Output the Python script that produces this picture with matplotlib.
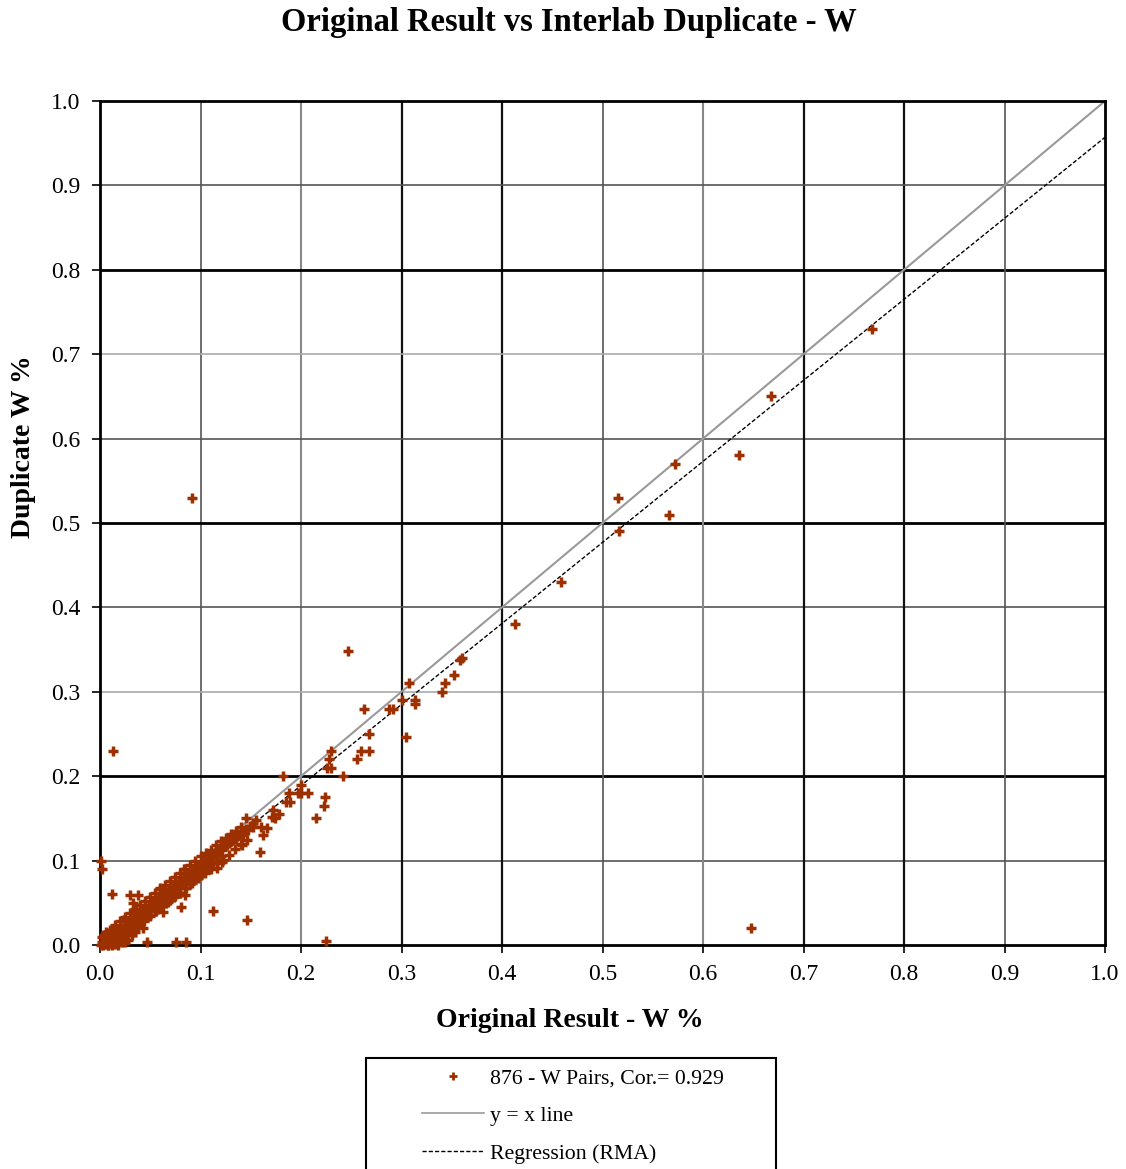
import matplotlib
matplotlib.use('Agg')
import matplotlib.pyplot as plt
import matplotlib.ticker as mticker
import matplotlib.patches as mpatches
from matplotlib.lines import Line2D
import numpy as np

plt.rcParams['font.family'] = ['Liberation Serif', 'DejaVu Serif']

# dense cluster along the diagonal
clusterX = [0.001,0.002,0.003,0.004,0.005,0.005,0.006,0.007,0.008,0.009,0.010,0.010,0.011,0.012,0.013,0.014,
            0.015,0.016,0.017,0.018,0.019,0.020,0.021,0.022,0.023,0.024,0.025,0.026,0.027,0.028,0.029,0.030,
            0.031,0.032,0.033,0.034,0.035,0.036,0.037,0.038,0.039,0.040,0.041,0.042,0.043,0.044,0.045,0.046,
            0.047,0.048,0.049,0.050,0.051,0.052,0.053,0.054,0.055,0.056,0.057,0.058,0.059,0.060,0.061,0.062,
            0.063,0.064,0.065,0.066,0.067,0.068,0.069,0.070,0.071,0.072,0.073,0.074,0.075,0.076,0.077,0.078,
            0.079,0.080,0.081,0.082,0.083,0.084,0.085,0.086,0.087,0.088,0.089,0.090,0.091,0.092,0.093,0.094,
            0.095,0.096,0.097,0.098,0.099,0.100,0.101,0.102,0.103,0.104,0.105,0.106,0.107,0.108,0.110,0.112,
            0.114,0.115,0.117,0.118,0.120,0.121,0.123,0.125,0.126,0.128,0.130,0.132,0.134,0.135,0.137,0.140,
            0.142,0.145,0.147,0.150,0.152,0.155]
clusterY = [0.000,0.003,0.001,0.004,0.002,0.006,0.005,0.003,0.008,0.006,0.004,0.010,0.008,0.011,0.009,0.012,
            0.010,0.014,0.012,0.016,0.015,0.013,0.019,0.017,0.020,0.018,0.022,0.021,0.024,0.023,0.026,0.025,
            0.028,0.027,0.030,0.029,0.032,0.031,0.034,0.030,0.036,0.035,0.037,0.036,0.040,0.038,0.041,0.040,
            0.043,0.042,0.046,0.044,0.047,0.046,0.050,0.048,0.051,0.050,0.053,0.052,0.055,0.054,0.057,0.056,
            0.059,0.058,0.060,0.059,0.062,0.061,0.064,0.063,0.066,0.065,0.068,0.067,0.069,0.068,0.071,0.070,
            0.073,0.072,0.074,0.076,0.075,0.078,0.077,0.079,0.081,0.080,0.082,0.084,0.083,0.086,0.085,0.088,
            0.087,0.090,0.089,0.092,0.091,0.094,0.093,0.096,0.095,0.098,0.100,0.099,0.102,0.101,0.104,0.106,
            0.108,0.110,0.109,0.112,0.114,0.113,0.117,0.119,0.118,0.121,0.123,0.125,0.127,0.126,0.130,0.132,
            0.130,0.138,0.136,0.141,0.145,0.148]

# points spread on both sides of the band
bandX = [0.005,0.010,0.015,0.020,0.025,0.030,0.035,0.040,0.045,0.050,0.055,0.060,0.065,0.070,0.075,0.080,
         0.085,0.090,0.095,0.100,0.105,0.110,0.115,0.120,0.125,0.130,0.135,0.140,
         0.008,0.014,0.020,0.026,0.032,0.038,0.044,0.050,0.056,0.062,0.068,0.074,0.080,0.086,0.092,0.098,
         0.104,0.110,0.116,0.122,0.128,0.134,0.140,0.146,0.012,0.024,0.036,0.048,0.060,0.072,0.084,0.096]
bandY = [0.012,0.018,0.024,0.028,0.033,0.038,0.043,0.047,0.052,0.057,0.062,0.067,0.071,0.076,0.080,0.085,
         0.090,0.095,0.099,0.105,0.109,0.113,0.118,0.123,0.127,0.131,0.135,0.140,
         0.000,0.004,0.008,0.012,0.018,0.023,0.029,0.034,0.040,0.046,0.051,0.057,0.062,0.068,0.074,0.079,
         0.085,0.090,0.097,0.101,0.107,0.114,0.120,0.125,0.018,0.030,0.042,0.040,0.066,0.064,0.090,0.084]

# scattered points below/around the band near origin
lowX = [0.002,0.004,0.006,0.008,0.010,0.012,0.014,0.016,0.018,0.020,0.022,0.024,0.026,0.028,0.030,0.033,
        0.036,0.040,0.043,0.047,0.050,0.055,0.058,0.062,0.066,0.070,0.075,0.080,0.085,0.090,0.095,0.100,
        0.104,0.108,0.112,0.116,0.120,0.003,0.005,0.008,0.012,0.015,0.018,0.022,0.025,0.028,0.032,0.035]
lowY = [0.010,0.012,0.015,0.000,0.002,0.004,0.003,0.006,0.005,0.008,0.010,0.012,0.014,0.016,0.018,0.020,
        0.024,0.027,0.030,0.033,0.036,0.040,0.043,0.046,0.050,0.053,0.058,0.062,0.067,0.072,0.078,0.083,
        0.088,0.092,0.097,0.100,0.105,0.000,0.001,0.002,0.000,0.001,0.000,0.003,0.004,0.006,0.012,0.015]

# outliers and larger values
outX = [0.092,0.247,0.013,0.648,0.225,0.146,0.112,0.768,0.668,0.636,0.572,0.566,0.515,0.516,0.459,0.413,
        0.360,0.358,0.352,0.343,0.340,0.307,0.313,0.313,0.300,0.292,0.288,0.304,0.263,0.268,0.268,0.260,
        0.256,0.230,0.228,0.226,0.230,0.242,0.224,0.223,0.215,0.200,0.200,0.182,0.188,0.185,0.178,0.174,
        0.172,0.160,0.162,0.159,0.001,0.002,0.012,0.030,0.038,0.033,0.047,0.076,0.086,0.081,0.063,0.043,
        0.189,0.197,0.171,0.166,0.141,0.121,0.116,0.085,0.207,0.152,0.145,0.130,0.110,0.098]
outY = [0.530,0.348,0.230,0.020,0.005,0.030,0.040,0.730,0.650,0.580,0.570,0.510,0.530,0.490,0.430,0.380,
        0.340,0.338,0.320,0.310,0.300,0.310,0.290,0.285,0.290,0.280,0.280,0.247,0.280,0.250,0.230,0.230,
        0.220,0.230,0.220,0.210,0.210,0.200,0.175,0.165,0.150,0.190,0.180,0.200,0.180,0.170,0.155,0.150,
        0.160,0.140,0.130,0.110,0.100,0.090,0.060,0.059,0.059,0.050,0.004,0.004,0.004,0.045,0.039,0.020,
        0.170,0.180,0.152,0.139,0.118,0.098,0.091,0.059,0.180,0.140,0.150,0.128,0.108,0.080]

xAll = clusterX + bandX + lowX + outX
yAll = clusterY + bandY + lowY + outY

# RMA regression
rmaSlope = 0.960
rmaIntercept = -0.003
lineX = [0.0, 1.0]

ticks = [0.0,0.1,0.2,0.3,0.4,0.5,0.6,0.7,0.8,0.9,1.0]

fig = plt.figure(figsize=(11.26,11.69), dpi=100)
ax = fig.add_axes([100/1126, 1-945/1169, 1005/1126, 844/1169])

ax.set_xlim(0,1)
ax.set_ylim(0,1)
ax.set_xticks(ticks)
ax.set_yticks(ticks)
ax.xaxis.set_major_formatter(mticker.FormatStrFormatter('%.1f'))
ax.yaxis.set_major_formatter(mticker.FormatStrFormatter('%.1f'))
ax.tick_params(direction='out', length=6, width=1.2, labelsize=17, pad=8)

# grid lines look uneven in the scan, mimic that a bit
hcol = ['#555555','#000000','#aaaaaa','#555555','#000000','#555555','#aaaaaa','#000000','#555555']
hlw = [1.2,2.0,1.2,1.2,2.0,1.2,1.2,2.0,1.2]
vcol = ['#555555','#888888','#111111','#111111','#555555','#888888','#111111','#111111','#555555']
vlw = [1.2,1.5,1.6,1.6,1.2,1.5,1.6,1.6,1.2]
for i, t in enumerate(ticks[1:-1]):
    ax.axhline(t, color=hcol[i], lw=hlw[i], zorder=0)
    ax.axvline(t, color=vcol[i], lw=vlw[i], zorder=0)

for s in ax.spines.values():
    s.set_linewidth(2)
    s.set_color('black')

ax.plot(lineX, lineX, color='#999999', lw=1.5, zorder=2)
ax.plot(lineX, [rmaSlope*v + rmaIntercept for v in lineX], color='black', lw=1, dashes=(3,1.5), zorder=2)
ax.scatter(xAll, yAll, marker='+', s=60, linewidths=2.5, color='#9C3000', zorder=3, clip_on=False)

fig.suptitle('Original Result vs Interlab Duplicate - W', x=569/1126, y=1-23/1169, va='center',
             fontsize=23.5, fontweight='bold')
ax.set_xlabel('Original Result - W %', fontsize=20, fontweight='bold')
ax.xaxis.set_label_coords((570-100)/1005, -(1008-945)/844)
ax.set_ylabel('Duplicate W %', fontsize=20, fontweight='bold')
ax.yaxis.set_label_coords(-(100-36)/1005, (945-447)/844)

# legend box, running off the bottom edge like the original
fig.patches.append(mpatches.Rectangle((366/1126, -0.02), 410/1126, 0.02+1-1058/1169,
                                      transform=fig.transFigure, fill=False, edgecolor='black', lw=1.5))
handles = [Line2D([], [], ls='none', marker='+', ms=6, mew=2, color='#9C3000'),
           Line2D([], [], color='#999999', lw=1.2),
           Line2D([], [], color='black', lw=1, dashes=(3,1.5))]
labels = ['876 - W Pairs, Cor.= 0.929', 'y = x line', 'Regression (RMA)']
leg = fig.legend(handles, labels, loc='upper left', bbox_to_anchor=(422/1126, 1-1068/1169),
                 fontsize=15.7, frameon=False, handlelength=2.85, labelspacing=0.8,
                 borderpad=0, borderaxespad=0, handletextpad=0.25)

fig.savefig('out.png', dpi=100)
